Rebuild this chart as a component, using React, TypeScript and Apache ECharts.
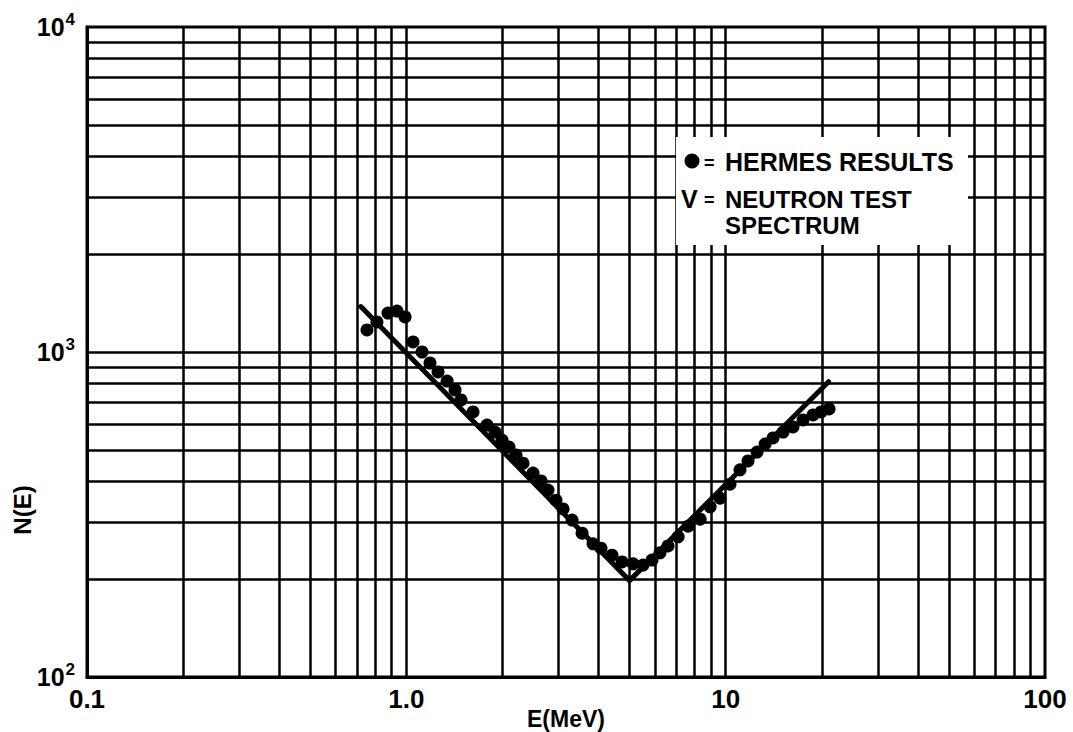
import React, { useEffect, useRef } from "react";
import * as echarts from "echarts";

// HERMES unfolded spectrum, energy (MeV) and N(E)
const energyMeV = [
  0.753, 0.809, 0.876, 0.935, 0.991, 1.05, 1.12, 1.186, 1.257, 1.342, 1.421, 1.484,
  1.618, 1.789, 1.896, 1.994, 2.097, 2.206, 2.32, 2.493, 2.642, 2.778, 2.943, 3.096,
  3.304, 3.551, 3.843, 4.071, 4.408, 4.737, 5.13, 5.51, 5.88, 6.23, 6.6, 7.1, 7.63,
  8.32, 8.94, 9.6, 10.32, 11.09, 11.75, 12.54, 13.29, 14.07, 15.13, 16.25, 17.47,
  18.78, 19.9, 21.08,
];
const hermesN = [
  1169, 1237, 1318, 1337, 1282, 1074, 1000, 925, 868, 814, 764, 712,
  654, 596, 567, 536, 510, 482, 455, 424, 401, 376, 350, 329,
  304, 277, 257, 249, 237, 226, 223, 221, 229, 241, 253, 270, 291,
  306, 334, 355, 392, 434, 462, 492, 521, 544, 567, 588, 618,
  640, 654, 668,
];

// Neutron test spectrum (straight segments on log-log scale)
const testSpectrumE = [0.72, 5.0, 21];
const testSpectrumN = [1380, 198, 810];

// Tick labels and grid rulings
const xTickLabels = ["0.1", "1.0", "10", "100"];
const yTickBase = "10";
const xGridValues = [
  0.2, 0.3, 0.4, 0.5, 0.6, 0.7, 0.8, 0.9, 1,
  2, 3, 4, 5, 6, 7, 8, 9, 10,
  20, 30, 40, 50, 60, 70, 80, 90,
];
const yGridValues = [
  200, 300, 400, 500, 600, 700, 800, 900, 1000,
  2000, 3000, 4000, 5000, 6000, 7000, 8000, 9000,
];

const xAxisTitle = "E(MeV)";
const yAxisTitle = "N(E)";
const legendDotText = "HERMES RESULTS";
const legendLineKey = "V";
const legendLineText = ["NEUTRON TEST", "SPECTRUM"];

const FONT = "'Liberation Sans', Arial, sans-serif";

export default function App() {
  const ref = useRef<HTMLDivElement | null>(null);

  useEffect(() => {
    if (!ref.current) return;
    const chart = echarts.init(ref.current, undefined, { renderer: "svg" });

    const rule = { color: "#000", width: 2.5, type: "solid" as const };
    const legendText = (x: number, y: number, text: string, size = 24) => ({
      type: "text",
      z: 101,
      x,
      y,
      style: {
        text,
        fontFamily: FONT,
        fontWeight: "bold",
        fontSize: size,
        fill: "#000",
        verticalAlign: "middle",
      },
    });

    chart.setOption({
      animation: false,
      backgroundColor: "#fff",
      grid: {
        left: 87,
        right: 28,
        top: 27,
        bottom: 55,
        outerBoundsMode: "none",
        containLabel: false,
        show: true,
        borderColor: "#000",
        borderWidth: 3,
        backgroundColor: "transparent",
      },
      xAxis: {
        type: "log",
        logBase: 10,
        min: 0.1,
        max: 100,
        name: xAxisTitle,
        nameLocation: "middle",
        nameGap: 30,
        nameMoveOverlap: false,
        nameTextStyle: { fontFamily: FONT, fontWeight: "bold", fontSize: 23, color: "#000" },
        axisLine: { lineStyle: { color: "#000", width: 3 } },
        axisTick: { show: false },
        splitLine: { show: false },
        axisLabel: {
          margin: 9,
          fontFamily: FONT,
          fontWeight: "bold",
          fontSize: 26,
          color: "#000",
          formatter: (v: number) => xTickLabels[Math.round(Math.log10(v)) + 1] ?? "",
        },
      },
      yAxis: {
        type: "log",
        logBase: 10,
        min: 100,
        max: 10000,
        axisLine: { lineStyle: { color: "#000", width: 3 } },
        axisTick: { show: false },
        splitLine: { show: false },
        axisLabel: {
          margin: 12,
          color: "#000",
          formatter: (v: number) => `{base|${yTickBase}}{exp|${Math.round(Math.log10(v))}}`,
          rich: {
            base: {
              fontFamily: FONT,
              fontWeight: "bold",
              fontSize: 25,
              lineHeight: 32,
              verticalAlign: "middle",
              color: "#000",
            },
            exp: {
              fontFamily: FONT,
              fontWeight: "bold",
              fontSize: 17,
              lineHeight: 14,
              verticalAlign: "top",
              color: "#000",
              padding: [0, 0, 0, 1],
            },
          },
        },
      },
      graphic: [
        {
          // vertical axis title, set low beside the axis
          type: "text",
          x: 22,
          y: 510,
          rotation: Math.PI / 2,
          style: {
            text: yAxisTitle,
            fontFamily: FONT,
            fontWeight: "bold",
            fontSize: 24,
            fill: "#000",
            align: "center",
            verticalAlign: "middle",
          },
        },
        {
          type: "rect",
          z: 100,
          shape: { x: 676, y: 137, width: 292, height: 108 },
          style: { fill: "#fff" },
        },
        {
          type: "circle",
          z: 101,
          shape: { cx: 692, cy: 161, r: 7.5 },
          style: { fill: "#000" },
        },
        legendText(704, 163, "=", 18),
        legendText(725, 162, legendDotText, 25),
        legendText(681, 199, legendLineKey, 25),
        legendText(704, 200, "=", 18),
        legendText(725, 199, legendLineText[0]),
        legendText(725, 225, legendLineText[1]),
      ],
      series: [
        {
          // Log-paper rulings
          type: "line",
          data: [],
          silent: true,
          markLine: {
            silent: true,
            symbol: ["none", "none"],
            label: { show: false },
            emphasis: { disabled: true },
            lineStyle: rule,
            data: [
              ...xGridValues.map((v) => ({ xAxis: v })),
              ...yGridValues.map((v) => ({ yAxis: v })),
            ],
          },
        },
        {
          name: "NEUTRON TEST SPECTRUM",
          type: "line",
          z: 3,
          data: testSpectrumE.map((e, i) => [e, testSpectrumN[i]]),
          showSymbol: false,
          symbol: "none",
          lineStyle: { color: "#000", width: 5, cap: "round", join: "miter" },
        },
        {
          name: "HERMES RESULTS",
          type: "scatter",
          z: 4,
          data: energyMeV.map((e, i) => [e, hermesN[i]]),
          symbol: "circle",
          symbolSize: 13,
          itemStyle: { color: "#000", opacity: 1 },
        },
      ],
    });

    return () => chart.dispose();
  }, []);

  return (
    <div
      ref={ref}
      style={{ position: "fixed", left: 0, top: 0, width: 1073, height: 732, background: "#fff" }}
    />
  );
}
